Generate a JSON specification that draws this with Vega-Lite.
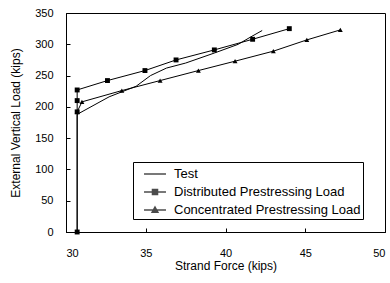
{
  "$schema": "https://vega.github.io/schema/vega-lite/v6.json",
  "width": 319,
  "height": 219,
  "autosize": {"type": "none"},
  "padding": {"left": 66, "top": 13, "right": 5, "bottom": 51},
  "background": "white",
  "config": {
    "font": "Liberation Sans",
    "view": {"stroke": "black", "strokeWidth": 1},
    "axis": {"grid": false, "domainColor": "black", "tickColor": "black", "labelColor": "black", "titleColor": "black", "labelFontSize": 11, "titleFontSize": 12, "titleFontWeight": "normal", "tickSize": -4}
  },
  "datasets": {
    "lines": [
      {"s": "Test", "i": 0, "x": 30.7, "y": 0},
      {"s": "Test", "i": 1, "x": 30.7, "y": 188},
      {"s": "Test", "i": 2, "x": 32.7, "y": 216},
      {"s": "Test", "i": 3, "x": 33.5, "y": 224},
      {"s": "Test", "i": 4, "x": 34.4, "y": 233},
      {"s": "Test", "i": 5, "x": 35.3, "y": 250},
      {"s": "Test", "i": 6, "x": 36.3, "y": 262},
      {"s": "Test", "i": 7, "x": 37.5, "y": 270},
      {"s": "Test", "i": 8, "x": 39.3, "y": 286},
      {"s": "Test", "i": 9, "x": 40.8, "y": 300},
      {"s": "Test", "i": 10, "x": 41.6, "y": 312},
      {"s": "Test", "i": 11, "x": 42.3, "y": 322},
      {"s": "Distributed Prestressing Load", "i": 0, "x": 30.7, "y": 0},
      {"s": "Distributed Prestressing Load", "i": 1, "x": 30.7, "y": 192},
      {"s": "Distributed Prestressing Load", "i": 2, "x": 30.7, "y": 210},
      {"s": "Distributed Prestressing Load", "i": 3, "x": 30.7, "y": 227},
      {"s": "Distributed Prestressing Load", "i": 4, "x": 32.6, "y": 242},
      {"s": "Distributed Prestressing Load", "i": 5, "x": 34.95, "y": 258},
      {"s": "Distributed Prestressing Load", "i": 6, "x": 36.9, "y": 275},
      {"s": "Distributed Prestressing Load", "i": 7, "x": 39.3, "y": 291},
      {"s": "Distributed Prestressing Load", "i": 8, "x": 41.7, "y": 308},
      {"s": "Distributed Prestressing Load", "i": 9, "x": 44.0, "y": 325},
      {"s": "Concentrated Prestressing Load", "i": 0, "x": 30.7, "y": 192},
      {"s": "Concentrated Prestressing Load", "i": 1, "x": 31.0, "y": 208},
      {"s": "Concentrated Prestressing Load", "i": 2, "x": 33.5, "y": 226},
      {"s": "Concentrated Prestressing Load", "i": 3, "x": 35.9, "y": 242},
      {"s": "Concentrated Prestressing Load", "i": 4, "x": 38.3, "y": 258},
      {"s": "Concentrated Prestressing Load", "i": 5, "x": 40.6, "y": 273},
      {"s": "Concentrated Prestressing Load", "i": 6, "x": 43.0, "y": 289},
      {"s": "Concentrated Prestressing Load", "i": 7, "x": 45.1, "y": 307},
      {"s": "Concentrated Prestressing Load", "i": 8, "x": 47.2, "y": 323}
    ],
    "legendrows": [
      {"s": "Test", "x": 0, "y": -100},
      {"s": "Distributed Prestressing Load", "x": 0, "y": -100},
      {"s": "Concentrated Prestressing Load", "x": 0, "y": -100}
    ]
  },
  "encoding": {
    "x": {"field": "x", "type": "quantitative", "scale": {"domain": [30, 50], "nice": false}, "axis": {"values": [30, 35, 40, 45, 50], "title": "Strand Force (kips)", "titlePadding": 2, "labelPadding": 19}},
    "y": {"field": "y", "type": "quantitative", "scale": {"domain": [0, 350], "nice": false}, "axis": {"values": [0, 50, 100, 150, 200, 250, 300, 350], "title": "External Vertical Load (kips)", "titlePadding": 12, "labelPadding": 17}}
  },
  "resolve": {"scale": {"shape": "independent"}, "legend": {"shape": "independent"}},
  "layer": [
    {
      "data": {"name": "lines"},
      "mark": {"type": "line", "color": "black", "strokeWidth": 1},
      "encoding": {"detail": {"field": "s"}, "order": {"field": "i", "type": "quantitative"}}
    },
    {
      "data": {"name": "lines"},
      "transform": [{"filter": "datum.s !== 'Test'"}],
      "mark": {"type": "point", "filled": true, "color": "black", "size": 24, "opacity": 1},
      "encoding": {
        "shape": {"field": "s", "type": "nominal", "scale": {"domain": ["Distributed Prestressing Load", "Concentrated Prestressing Load"], "range": ["square", "triangle-up"]}, "legend": null}
      }
    },
    {
      "data": {"name": "legendrows"},
      "mark": {"type": "point", "filled": true, "fill": "black", "stroke": "black", "clip": true, "strokeWidth": 1},
      "encoding": {
        "shape": {
          "field": "s", "type": "nominal",
          "scale": {"domain": ["Test", "Distributed Prestressing Load", "Concentrated Prestressing Load"],
            "range": ["M-1.22,0H1.22", "M-1.22,0H1.22M-0.28,-0.28H0.28V0.28H-0.28Z", "M-1.22,0H1.22M0,-0.32L0.32,0.26H-0.32Z"]},
          "legend": {
            "title": null, "orient": "none", "legendX": 67, "legendY": 149,
            "strokeColor": "black", "padding": 2, "symbolSize": 324, "symbolOffset": 10,
            "labelFontSize": 13, "labelColor": "black", "labelLimit": 400, "rowPadding": 1, "labelOffset": 9,
            "encode": {"symbols": {"update": {"stroke": {"value": "black"}, "fill": {"value": "black"}, "strokeWidth": {"value": 1}, "opacity": {"value": 1}}}}
          }
        }
      }
    }
  ]
}
